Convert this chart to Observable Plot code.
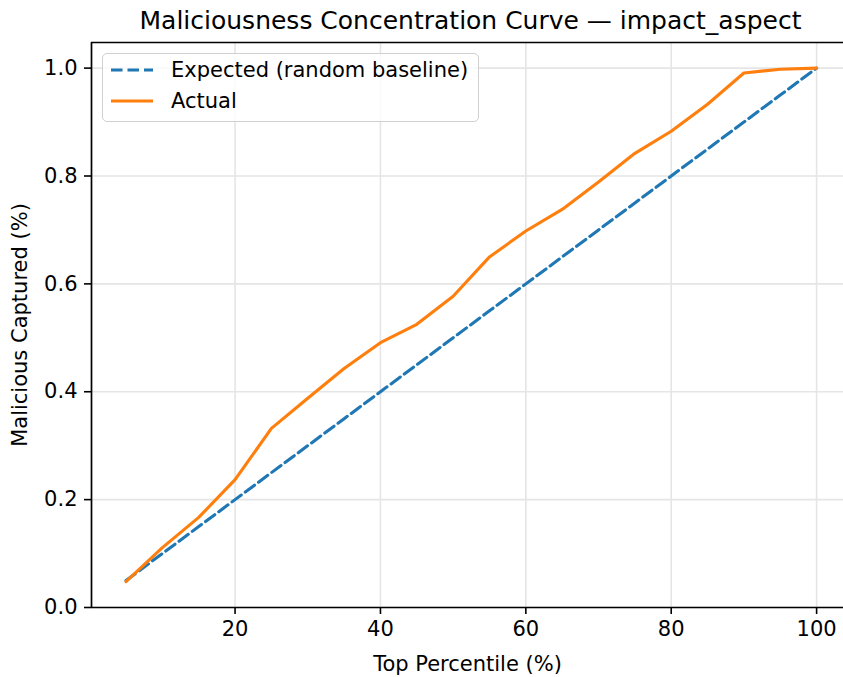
<!DOCTYPE html>
<html><head><meta charset="utf-8">
<script src="https://cdn.jsdelivr.net/npm/d3@7"></script>
<script src="https://cdn.jsdelivr.net/npm/@observablehq/plot@0.6"></script>
<style>
body{margin:0;background:#fff;font-family:"DejaVu Sans",sans-serif;}
#wrap{position:relative;width:843px;height:677px;overflow:hidden;}
#chart{position:absolute;left:0;top:0;}
#title{position:absolute;left:91px;width:759px;top:6px;text-align:center;font-size:25px;color:#000;white-space:nowrap;}
#legend{position:absolute;left:102px;top:53px;width:377px;height:69px;box-sizing:border-box;border:1.5px solid #d0d0d0;border-radius:5px;background:rgba(255,255,255,0.8);font-size:21px;color:#000;}
.item{position:absolute;left:7px;display:flex;align-items:center;}
.item svg{margin-right:17px;}
</style></head>
<body>
<div id="wrap">
<div id="chart"></div>
<div id="title">Maliciousness Concentration Curve — impact_aspect</div>
<div id="legend">
  <div class="item" style="top:4px"><svg width="44" height="24"><line x1="1" y1="12" x2="43" y2="12" stroke="#1f77b4" stroke-width="3.1" stroke-dasharray="11.5,5"/></svg><span>Expected (random baseline)</span></div>
  <div class="item" style="top:35px"><svg width="44" height="24"><line x1="1" y1="12" x2="43" y2="12" stroke="#ff7f0e" stroke-width="3.1"/></svg><span>Actual</span></div>
</div>
</div>
<script>
const percentiles = [5,10,15,20,25,30,35,40,45,50,55,60,65,70,75,80,85,90,95,100];
const expected = [0.05,0.10,0.15,0.20,0.25,0.30,0.35,0.40,0.45,0.50,0.55,0.60,0.65,0.70,0.75,0.80,0.85,0.90,0.95,1.00];
const actual = [0.048,0.111,0.167,0.237,0.332,0.388,0.443,0.491,0.525,0.577,0.650,0.698,0.738,0.789,0.842,0.883,0.933,0.991,0.998,1.000];
const xTicks = [20,40,60,80,100];
const yTicks = [0,0.2,0.4,0.6,0.8,1.0];

const expData = percentiles.map((p,i)=>({p, v: expected[i]}));
const actData = percentiles.map((p,i)=>({p, v: actual[i]}));

const chart = Plot.plot({
  width: 843, height: 677,
  marginLeft: 91, marginRight: 0, marginTop: 42, marginBottom: 70,
  style: {fontFamily: "DejaVu Sans", fontSize: "21px", background: "#fff", color: "#000"},
  x: {domain: [0.25, 103.7]},
  y: {domain: [0, 1.0475]},
  marks: [
    Plot.gridX(xTicks, {stroke: "#e5e5e5", strokeOpacity: 1, strokeWidth: 1.6}),
    Plot.gridY(yTicks, {stroke: "#e5e5e5", strokeOpacity: 1, strokeWidth: 1.6}),
    Plot.line(expData, {x: "p", y: "v", stroke: "#1f77b4", strokeWidth: 3.1, strokeDasharray: "11.5,5"}),
    Plot.line(actData, {x: "p", y: "v", stroke: "#ff7f0e", strokeWidth: 3.1}),
    Plot.ruleX([0.25], {stroke: "#000", strokeWidth: 1.7}),
    Plot.ruleY([0], {stroke: "#000", strokeWidth: 1.7}),
    Plot.ruleY([1.0475], {stroke: "#000", strokeWidth: 1.7}),
    Plot.axisX({ticks: xTicks, tickSize: 7, tickPadding: 7, strokeWidth: 1.6, tickFormat: d3.format("d"),
      label: "Top Percentile (%)", labelAnchor: "center", labelArrow: "none", labelOffset: 63}),
    Plot.axisY({ticks: yTicks, tickSize: 7, tickPadding: 7, strokeWidth: 1.6, tickFormat: d3.format(".1f"),
      label: "Malicious Captured (%)", labelAnchor: "center", labelArrow: "none", labelOffset: 79})
  ]
});
document.getElementById("chart").appendChild(chart);
</script>
</body></html>
